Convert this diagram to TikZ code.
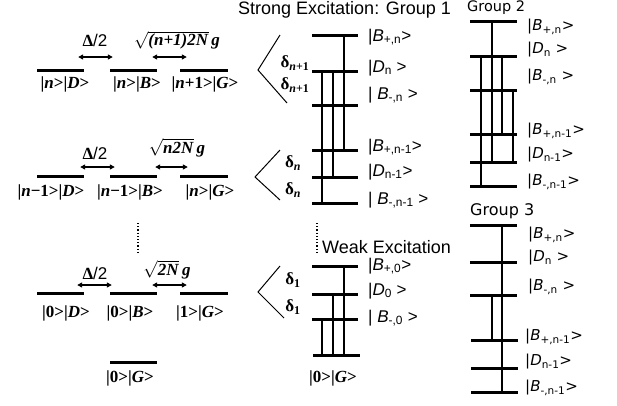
\documentclass[tikz,border=0pt]{standalone}
\usepackage{fontspec}
\setmainfont{Liberation Serif}
\setsansfont{Liberation Sans}
\newfontfamily\dejavu{DejaVu Sans}
\usetikzlibrary{arrows.meta, positioning}
\tikzset{
  lev/.style={rectangle, fill=black, inner sep=0pt, minimum height=3pt, minimum width=#1},
  lev/.default=47pt,
  tie/.style={line width=1.2pt},
  coup/.style={{Triangle[length=5pt,width=5pt]}-{Triangle[length=5pt,width=5pt]}, line width=1.5pt},
  wedge/.style={line width=1pt},
  stl/.style={font=\fontsize{17}{17}\selectfont\bfseries, inner sep=0pt},
  cpl/.style={font=\fontsize{17}{17}\selectfont\bfseries, inner sep=0pt},
  dlt/.style={font=\fontsize{17}{17}\selectfont\bfseries, inner sep=0pt},
  ketg/.style={font=\fontsize{17}{17}\selectfont\sffamily, anchor=west, inner sep=0pt},
  ketd/.style={font=\fontsize{15}{15}\selectfont\dejavu, anchor=west, inner sep=0pt},
  ttl/.style={font=\fontsize{18}{18}\selectfont\sffamily, inner sep=0pt}
}
\newcommand{\bi}[1]{\textbf{\textit{#1}}}
\newcommand{\kb}[2]{\textit{B}\textsubscript{#1,#2}}
\newcommand{\kd}[1]{\textit{D}\textsubscript{#1}}

\begin{document}
\begin{tikzpicture}[x=1pt, y=-1pt]
  \useasboundingbox (0,0) rectangle (617,405);

  % Left ladder, row n
  \node[lev] (d1) at (60.5, 70) {};
  \node[lev] (b1) at (133.5, 70) {};
  \node[lev=48pt] (g1) at (204, 70) {};
  \node[stl] (sd1) at (65, 84) {|\bi{n}>|\bi{D}>};
  \node[stl] (sb1) at (137, 84) {|\bi{n}>|\bi{B}>};
  \node[stl] (sg1) at (205, 84) {|\bi{n}+1>|\bi{G}>};
  \draw[coup] ([shift={(-6,-13)}]d1.east) -- ([shift={(3,-13)}]b1.west);
  \draw[coup] ([shift={(-5,-13)}]b1.east) -- ([shift={(7,-13)}]g1.west);
  \node[cpl] (c1a) at (95, 40) {Δ\textmd{\sffamily/2}};
  \node[cpl] (c1b) at (177, 40) {$\sqrt{\mbox{\bi{(n+1)2N}}}$\,\bi{g}};

  % Left ladder, row n-1
  \node[lev] (d2) at (60.5, 176) {};
  \node[lev] (b2) at (133.5, 176) {};
  \node[lev=48pt] (g2) at (204, 176) {};
  \node[stl] (sd2) at (51, 192) {|\bi{n}−1>|\bi{D}>};
  \node[stl] (sb2) at (130, 192) {|\bi{n}−1>|\bi{B}>};
  \node[stl] (sg2) at (210, 192) {|\bi{n}>|\bi{G}>};
  \draw[coup] ([shift={(-4,-9)}]d2.east) -- ([shift={(5,-9)}]b2.west);
  \draw[coup] ([shift={(-2,-9)}]b2.east) -- ([shift={(8,-9)}]g2.west);
  \node[cpl] (c2a) at (95, 153) {Δ\textmd{\sffamily/2}};
  \node[cpl] (c2b) at (177, 148) {$\sqrt{\mbox{\bi{n2N}}}$\,\bi{g}};

  % dots
  \coordinate (dt1) at (138, 223);
  \coordinate (dt2) at (138, 253);
  \draw[line width=1.2pt, dotted] (dt1) -- (dt2);

  % Left ladder, row 0
  \node[lev] (d3) at (60.5, 293) {};
  \node[lev] (b3) at (133.5, 293) {};
  \node[lev=48pt] (g3) at (204, 293) {};
  \node[stl] (sd3) at (66, 313) {|0>|\bi{D}>};
  \node[stl] (sb3) at (130, 313) {|0>|\bi{B}>};
  \node[stl] (sg3) at (200, 313) {|1>|\bi{G}>};
  \draw[coup] ([shift={(-7,-8)}]d3.east) -- ([shift={(2,-8)}]b3.west);
  \draw[coup] ([shift={(-5,-8)}]b3.east) -- ([shift={(7,-8)}]g3.west);
  \node[cpl] (c3a) at (95, 273) {Δ\textmd{\sffamily/2}};
  \node[cpl] (c3b) at (167, 270) {$\sqrt{\mbox{\bi{2N}}}$\,\bi{g}};

  % ground
  \node[lev] (gr) at (133.5, 362) {};
  \node[stl] (sgr) at (130, 378) {|0>|\bi{G}>};

  % Group 1
  \node[ttl, anchor=west] (t1) at (238, 10) {Strong Excitation: Group 1};
  \node[lev=46pt] (a1) at (335, 35) {};
  \node[lev=46pt] (a2) at (335, 71) {};
  \node[lev=46pt] (a3) at (335, 105) {};
  \node[lev=46pt] (a4) at (335, 150) {};
  \node[lev=46pt] (a5) at (335, 177) {};
  \node[lev=46pt] (a6) at (335, 203) {};
  \coordinate (u1) at (322, 0);
  \coordinate (u2) at (333, 0);
  \coordinate (u3) at (344, 0);
  \draw[tie] (a1 -| u3) -- (a4 -| u3);
  \draw[tie] (a2 -| u2) -- (a5 -| u2);
  \draw[tie] (a2 -| u1) -- (a6 -| u1);
  \node[ketg] (k1) at (368, 37) {|\kb{+}{n}>};
  \node[ketg] (k2) at (368, 68) {|\kd{n} >};
  \node[ketg] (k3) at (368, 95) {| \kb{-}{n} >};
  \node[ketg] (k4) at (368, 147) {|\kb{+}{n-1}>};
  \node[ketg] (k5) at (368, 172) {|\kd{n-1}>};
  \node[ketg] (k6) at (368, 200) {| \kb{-}{n-1} >};
  \draw[wedge] (280, 35) -- (258, 70) -- (287, 103);
  \node[dlt] (e1) at (295, 63) {δ\textsubscript{\bi{n}+1}};
  \node[dlt] (e2) at (295, 85) {δ\textsubscript{\bi{n}+1}};
  \draw[wedge] (280, 150) -- (255, 177) -- (280, 200);
  \node[dlt] (e3) at (293, 163) {δ\textsubscript{\bi{n}}};
  \node[dlt] (e4) at (293, 190) {δ\textsubscript{\bi{n}}};

  % weak excitation
  \coordinate (w1) at (317, 223);
  \coordinate (w2) at (317, 253);
  \draw[line width=1.2pt, dotted] (w1) -- (w2);
  \node[ttl, anchor=west] (t0) at (322, 247) {Weak Excitation};
  \node[lev=46pt] (z1) at (335, 266) {};
  \node[lev=46pt] (z2) at (335, 294) {};
  \node[lev=46pt] (z3) at (335, 319) {};
  \node[lev] (z0) at (336.5, 355) {};
  \draw[tie] (z1 -| u3) -- (z0 -| u3);
  \draw[tie] (z2 -| u2) -- (z0 -| u2);
  \draw[tie] (z3 -| u1) -- (z0 -| u1);
  \node[ketg] (q1) at (368, 266) {|\kb{+}{0}>};
  \node[ketg] (q2) at (368, 291) {|\kd{0} >};
  \node[ketg] (q3) at (368, 318) {| \kb{-}{0} >};
  \draw[wedge] (280, 266) -- (258, 292) -- (284, 318);
  \node[dlt] (e5) at (293, 280) {δ\textsubscript{1}};
  \node[dlt] (e6) at (293, 307) {δ\textsubscript{1}};
  \node[stl] (sgz) at (333, 378) {|0>|\bi{G}>};

  % Group 2
  \node[ketd, font=\fontsize{14.5}{14.5}\selectfont\dejavu] (t2) at (467, 8) {Group 2};
  \node[lev] (m1) at (493.5, 21) {};
  \node[lev] (m2) at (493.5, 56) {};
  \node[lev] (m3) at (493.5, 90) {};
  \node[lev] (m4) at (493.5, 134) {};
  \node[lev] (m5) at (493.5, 162) {};
  \node[lev] (m6) at (493.5, 186) {};
  \coordinate (v1) at (481, 0);
  \coordinate (v2) at (492, 0);
  \coordinate (v3) at (502, 0);
  \coordinate (v4) at (513, 0);
  \draw[tie] (m1 -| v2) -- (m5 -| v2);
  \draw[tie] (m2 -| v1) -- (m6 -| v1);
  \draw[tie] (m2 -| v3) -- (m4 -| v3);
  \draw[tie] (m3 -| v4) -- (m5 -| v4);
  \node[ketd] (p1) at (527, 27) {|\kb{+}{n}>};
  \node[ketd] (p2) at (527, 50) {|\kd{n} >};
  \node[ketd] (p3) at (527, 77) {|\kb{-}{n} >};
  \node[ketd] (p4) at (527, 131) {|\kb{+}{n-1}>};
  \node[ketd] (p5) at (527, 155) {|\kd{n-1}>};
  \node[ketd] (p6) at (527, 182) {|\kb{-}{n-1}>};

  % Group 3
  \node[ketd, font=\fontsize{16}{16}\selectfont\dejavu] (t3) at (470, 211) {Group 3};
  \node[lev] (n1) at (493.5, 225) {};
  \node[lev] (n2) at (493.5, 262) {};
  \node[lev] (n3) at (493.5, 295) {};
  \node[lev] (n4) at (494.5, 340) {};
  \node[lev] (n5) at (494.5, 368) {};
  \node[lev] (n6) at (494.5, 392) {};
  \draw[tie] (n1 -| v3) -- (n6 -| v3);
  \draw[tie] (n3 -| v2) -- (n4 -| v2);
  \node[ketd] (r1) at (528, 235) {|\kb{+}{n}>};
  \node[ketd] (r2) at (528, 258) {|\kd{n} >};
  \node[ketd] (r3) at (528, 287) {|\kb{-}{n} >};
  \node[ketd] (r4) at (525, 337) {|\kb{+}{n-1}>};
  \node[ketd] (r5) at (525, 362) {|\kd{n-1}>};
  \node[ketd] (r6) at (525, 388) {|\kb{-}{n-1}>};
\end{tikzpicture}
\end{document}
